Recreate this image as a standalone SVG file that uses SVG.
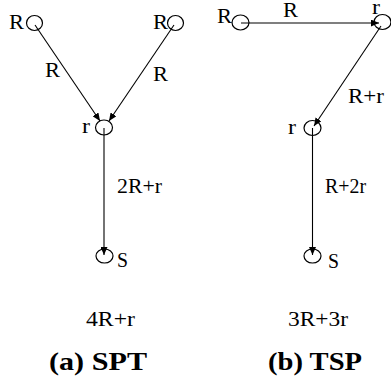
<svg xmlns="http://www.w3.org/2000/svg" width="391" height="384" viewBox="0 0 391 384">
<style>
text{font-family:"Liberation Serif","Times New Roman",Times,serif;font-size:20px;fill:#000}
.b{font-weight:bold;font-size:25px}
.n{fill:none;stroke:#000;stroke-width:1.2}
.e{fill:none;stroke:#000;stroke-width:1.1;marker-end:url(#ah)}
</style>
<defs>
<marker id="ah" markerUnits="userSpaceOnUse" markerWidth="9" markerHeight="7" refX="8" refY="3.5" orient="auto">
<path d="M0,0 L8,3.5 L0,7 Z" fill="#000"/>
</marker>
</defs>
<rect width="391" height="384" fill="#fff"/>
<g id="connectors">
<line class="e" x1="35" y1="25" x2="100" y2="121"/>
<line class="e" x1="174" y1="25" x2="109" y2="121"/>
<line class="e" x1="104" y1="128" x2="104" y2="255"/>
<line class="e" x1="241" y1="23" x2="379" y2="23"/>
<line class="e" x1="381" y1="26" x2="314" y2="126"/>
<line class="e" x1="312.5" y1="128" x2="312.5" y2="255"/>
<text x="45" y="77" textLength="15" lengthAdjust="spacingAndGlyphs">R</text>
<text x="153" y="81" textLength="15" lengthAdjust="spacingAndGlyphs">R</text>
<text x="117" y="193" textLength="45" lengthAdjust="spacingAndGlyphs">2R+r</text>
<text x="283" y="17" textLength="15" lengthAdjust="spacingAndGlyphs">R</text>
<text x="348" y="103" textLength="36" lengthAdjust="spacingAndGlyphs">R+r</text>
<text x="325" y="193" textLength="41" lengthAdjust="spacingAndGlyphs">R+2r</text>
</g>
<g id="spt-R1"><ellipse class="n" cx="34.5" cy="23" rx="8" ry="7.5"/><text x="9" y="29" textLength="15" lengthAdjust="spacingAndGlyphs">R</text></g>
<g id="spt-R2"><ellipse class="n" cx="175.5" cy="23" rx="8" ry="7.5"/><text x="153" y="29" textLength="15" lengthAdjust="spacingAndGlyphs">R</text></g>
<g id="spt-r"><ellipse class="n" cx="104" cy="127.5" rx="8.5" ry="7.5"/><text x="82" y="133" textLength="8" lengthAdjust="spacingAndGlyphs">r</text></g>
<g id="spt-S"><ellipse class="n" cx="104.5" cy="256" rx="8.5" ry="7"/><text x="117" y="267" textLength="11" lengthAdjust="spacingAndGlyphs">S</text></g>
<g id="tsp-R"><ellipse class="n" cx="240.5" cy="22.5" rx="8.5" ry="7.5"/><text x="217" y="23" textLength="15" lengthAdjust="spacingAndGlyphs">R</text></g>
<g id="tsp-r1"><ellipse class="n" cx="382.5" cy="22" rx="8.5" ry="7.5"/><text x="372" y="14" textLength="8" lengthAdjust="spacingAndGlyphs">r</text></g>
<g id="tsp-r2"><ellipse class="n" cx="312.5" cy="128" rx="8.5" ry="7.5"/><text x="288" y="134" textLength="8" lengthAdjust="spacingAndGlyphs">r</text></g>
<g id="tsp-S"><ellipse class="n" cx="312.5" cy="256" rx="8.5" ry="7"/><text x="328" y="268" textLength="11" lengthAdjust="spacingAndGlyphs">S</text></g>
<g id="captions">
<text x="86" y="326" textLength="49" lengthAdjust="spacingAndGlyphs">4R+r</text>
<text x="288" y="326" textLength="60" lengthAdjust="spacingAndGlyphs">3R+3r</text>
<text class="b" x="49" y="370" textLength="98" lengthAdjust="spacingAndGlyphs">(a) SPT</text>
<text class="b" x="268" y="370" textLength="94" lengthAdjust="spacingAndGlyphs">(b) TSP</text>
</g>
</svg>
